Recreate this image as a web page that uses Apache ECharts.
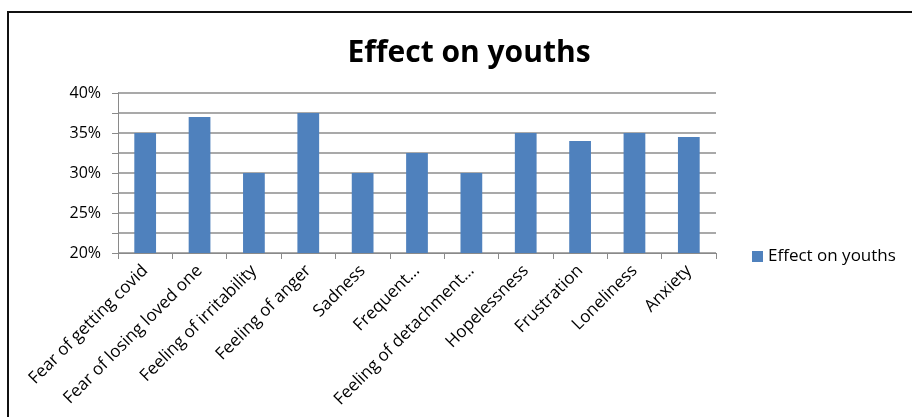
<!DOCTYPE html>
<html>
<head>
<meta charset="utf-8">
<script src="https://cdn.jsdelivr.net/npm/echarts@6/dist/echarts.min.js"></script>
<style>
  html, body { margin: 0; padding: 0; background: #fff; }
  #chart { width: 912px; height: 417px; }
</style>
</head>
<body>
<div id="chart"></div>
<script>
// Survey categories and share of youths reporting each effect (%)
const categories = [
  'Fear of getting covid',
  'Fear of losing loved one',
  'Feeling of irritability',
  'Feeling of anger',
  'Sadness',
  'Frequent…',
  'Feeling of detachment…',
  'Hopelessness',
  'Frustration',
  'Loneliness',
  'Anxiety'
];
const youthValues = [35, 37, 30, 37.5, 30, 32.5, 30, 35, 34, 35, 34.5];
const seriesName = 'Effect on youths';
const yTicks = [20, 25, 30, 35, 40];

const FONT = '"Open Sans", "Liberation Sans", sans-serif';

const chart = echarts.init(document.getElementById('chart'), null, { renderer: 'canvas' });

chart.setOption({
  animation: false,
  backgroundColor: '#fff',
  title: {
    text: 'Effect on youths',
    left: 464,
    top: 33,
    textAlign: 'center',
    textStyle: { fontFamily: FONT, fontWeight: 'bold', fontSize: 30, color: '#000' }
  },
  legend: {
    data: [seriesName],
    left: 747,
    top: 243,
    icon: 'rect',
    itemWidth: 11,
    itemHeight: 11,
    itemGap: 6,
    textStyle: { fontFamily: FONT, fontSize: 17, color: '#000' }
  },
  graphic: [{
    type: 'rect',
    shape: { x: 8, y: 12, width: 1000, height: 1000 },
    style: { fill: 'none', stroke: '#111', lineWidth: 2 },
    silent: true
  }],
  grid: { left: 118, right: 196, top: 93, bottom: 164, containLabel: false },
  xAxis: {
    type: 'category',
    data: categories,
    axisLine: { lineStyle: { color: '#8a8a8a', width: 1 } },
    axisTick: { show: true, alignWithLabel: false, length: 6, lineStyle: { color: '#8a8a8a' } },
    axisLabel: {
      interval: 0,
      rotate: 45,
      margin: 15,
      fontFamily: FONT,
      fontSize: 17,
      color: '#000'
    }
  },
  yAxis: {
    type: 'value',
    min: 20,
    max: 40,
    interval: 2.5,
    axisLine: { show: true, lineStyle: { color: '#8a8a8a', width: 1 } },
    axisTick: { show: true, length: 6, lineStyle: { color: '#8a8a8a' } },
    splitLine: { show: true, lineStyle: { color: '#8c8c8c', width: 1.5 } },
    axisLabel: {
      margin: 17,
      fontFamily: FONT,
      fontSize: 16,
      color: '#000',
      formatter: v => (yTicks.indexOf(v) >= 0 ? v + '%' : '')
    }
  },
  series: [{
    name: seriesName,
    type: 'bar',
    data: youthValues,
    barWidth: '40%',
    itemStyle: { color: '#4f81bd' }
  }]
});
</script>
</body>
</html>
